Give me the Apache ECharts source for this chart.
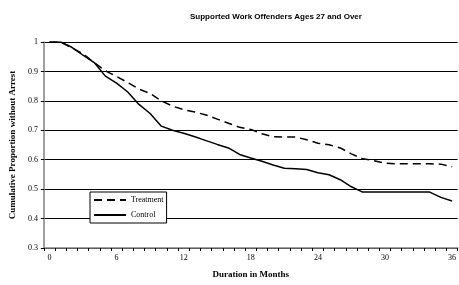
<!DOCTYPE html>
<html>
<head>
<meta charset="utf-8">
<script src="https://cdn.jsdelivr.net/npm/echarts@6/dist/echarts.min.js"></script>
<style>
  html, body { margin: 0; padding: 0; background: #fff; }
  #main { width: 459px; height: 285px; }
</style>
</head>
<body>
<div id="main"></div>
<script>
var months = [];
for (var m = 0; m <= 36; m++) months.push(String(m));

var treatment = [1, 1, 0.98, 0.96, 0.93, 0.902, 0.883, 0.862, 0.84, 0.825,
  0.80, 0.782, 0.77, 0.762, 0.752, 0.738, 0.724, 0.71, 0.703, 0.688,
  0.678, 0.677, 0.677, 0.668, 0.656, 0.651, 0.64, 0.62, 0.603, 0.597,
  0.588, 0.586, 0.586, 0.586, 0.586, 0.585, 0.576];

var control = [1, 1, 0.982, 0.955, 0.93, 0.884, 0.86, 0.83, 0.788, 0.757,
  0.714, 0.70, 0.69, 0.678, 0.665, 0.652, 0.64, 0.618, 0.606, 0.595,
  0.582, 0.571, 0.569, 0.567, 0.556, 0.549, 0.532, 0.508, 0.49, 0.49,
  0.49, 0.49, 0.49, 0.49, 0.49, 0.472, 0.46];

var serif = '"Liberation Serif", "Times New Roman", serif';

var chart = echarts.init(document.getElementById('main'));
var option = {
  backgroundColor: '#fff',
  animation: false,
  title: {
    text: 'Supported Work Offenders Ages 27 and Over',
    left: 185,
    top: 8,
    textStyle: {
      fontFamily: '"Liberation Sans", Arial, sans-serif',
      fontSize: 8,
      fontWeight: 'bold',
      color: '#000'
    }
  },
  legend: {
    orient: 'vertical',
    left: 90,
    top: 192,
    padding: [4, 3, 4, 3],
    itemGap: 7,
    itemWidth: 32,
    itemHeight: 8,
    itemTextGap: 2,
    borderColor: '#000',
    borderWidth: 1,
    borderRadius: 0,
    backgroundColor: '#fff',
    itemStyle: { opacity: 0 },
    textStyle: { fontFamily: serif, fontSize: 8, color: '#000' },
    data: ['Treatment', 'Control']
  },
  grid: {
    left: 41,
    top: 42,
    width: 419,
    height: 206
  },
  xAxis: {
    type: 'category',
    data: months,
    boundaryGap: true,
    name: 'Duration in Months',
    nameLocation: 'middle',
    nameGap: 22,
    nameTextStyle: { fontFamily: serif, fontSize: 9, fontWeight: 'bold', color: '#000' },
    axisLine: { lineStyle: { color: '#808080', width: 1.5 } },
    axisTick: { show: true, interval: 0, length: 3, lineStyle: { color: '#000' } },
    axisLabel: { interval: 5, margin: 6, fontFamily: serif, fontSize: 8, color: '#000' },
    splitLine: { show: false }
  },
  yAxis: {
    type: 'value',
    min: 0.3,
    max: 1,
    interval: 0.1,
    name: 'Cumulative Proportion without Arrest',
    nameLocation: 'middle',
    nameGap: 22,
    nameTextStyle: { fontFamily: serif, fontSize: 9, fontWeight: 'bold', color: '#000' },
    axisLine: { show: true, lineStyle: { color: '#808080', width: 1.5 } },
    axisTick: { show: true, length: 3, lineStyle: { color: '#000' } },
    axisLabel: {
      margin: 6,
      fontFamily: serif,
      fontSize: 8,
      color: '#000',
      formatter: function (v) { return String(Number(v.toFixed(1))); }
    },
    splitLine: { show: true, lineStyle: { color: '#000', width: 1 } }
  },
  series: [
    {
      name: 'Treatment',
      type: 'line',
      data: treatment,
      symbol: 'none',
      lineStyle: { color: '#000', width: 1.5, type: [8, 5] },
      itemStyle: { color: '#000' }
    },
    {
      name: 'Control',
      type: 'line',
      data: control,
      symbol: 'none',
      lineStyle: { color: '#000', width: 1.5, type: 'solid' },
      itemStyle: { color: '#000' }
    }
  ]
};
chart.setOption(option);
</script>
</body>
</html>
